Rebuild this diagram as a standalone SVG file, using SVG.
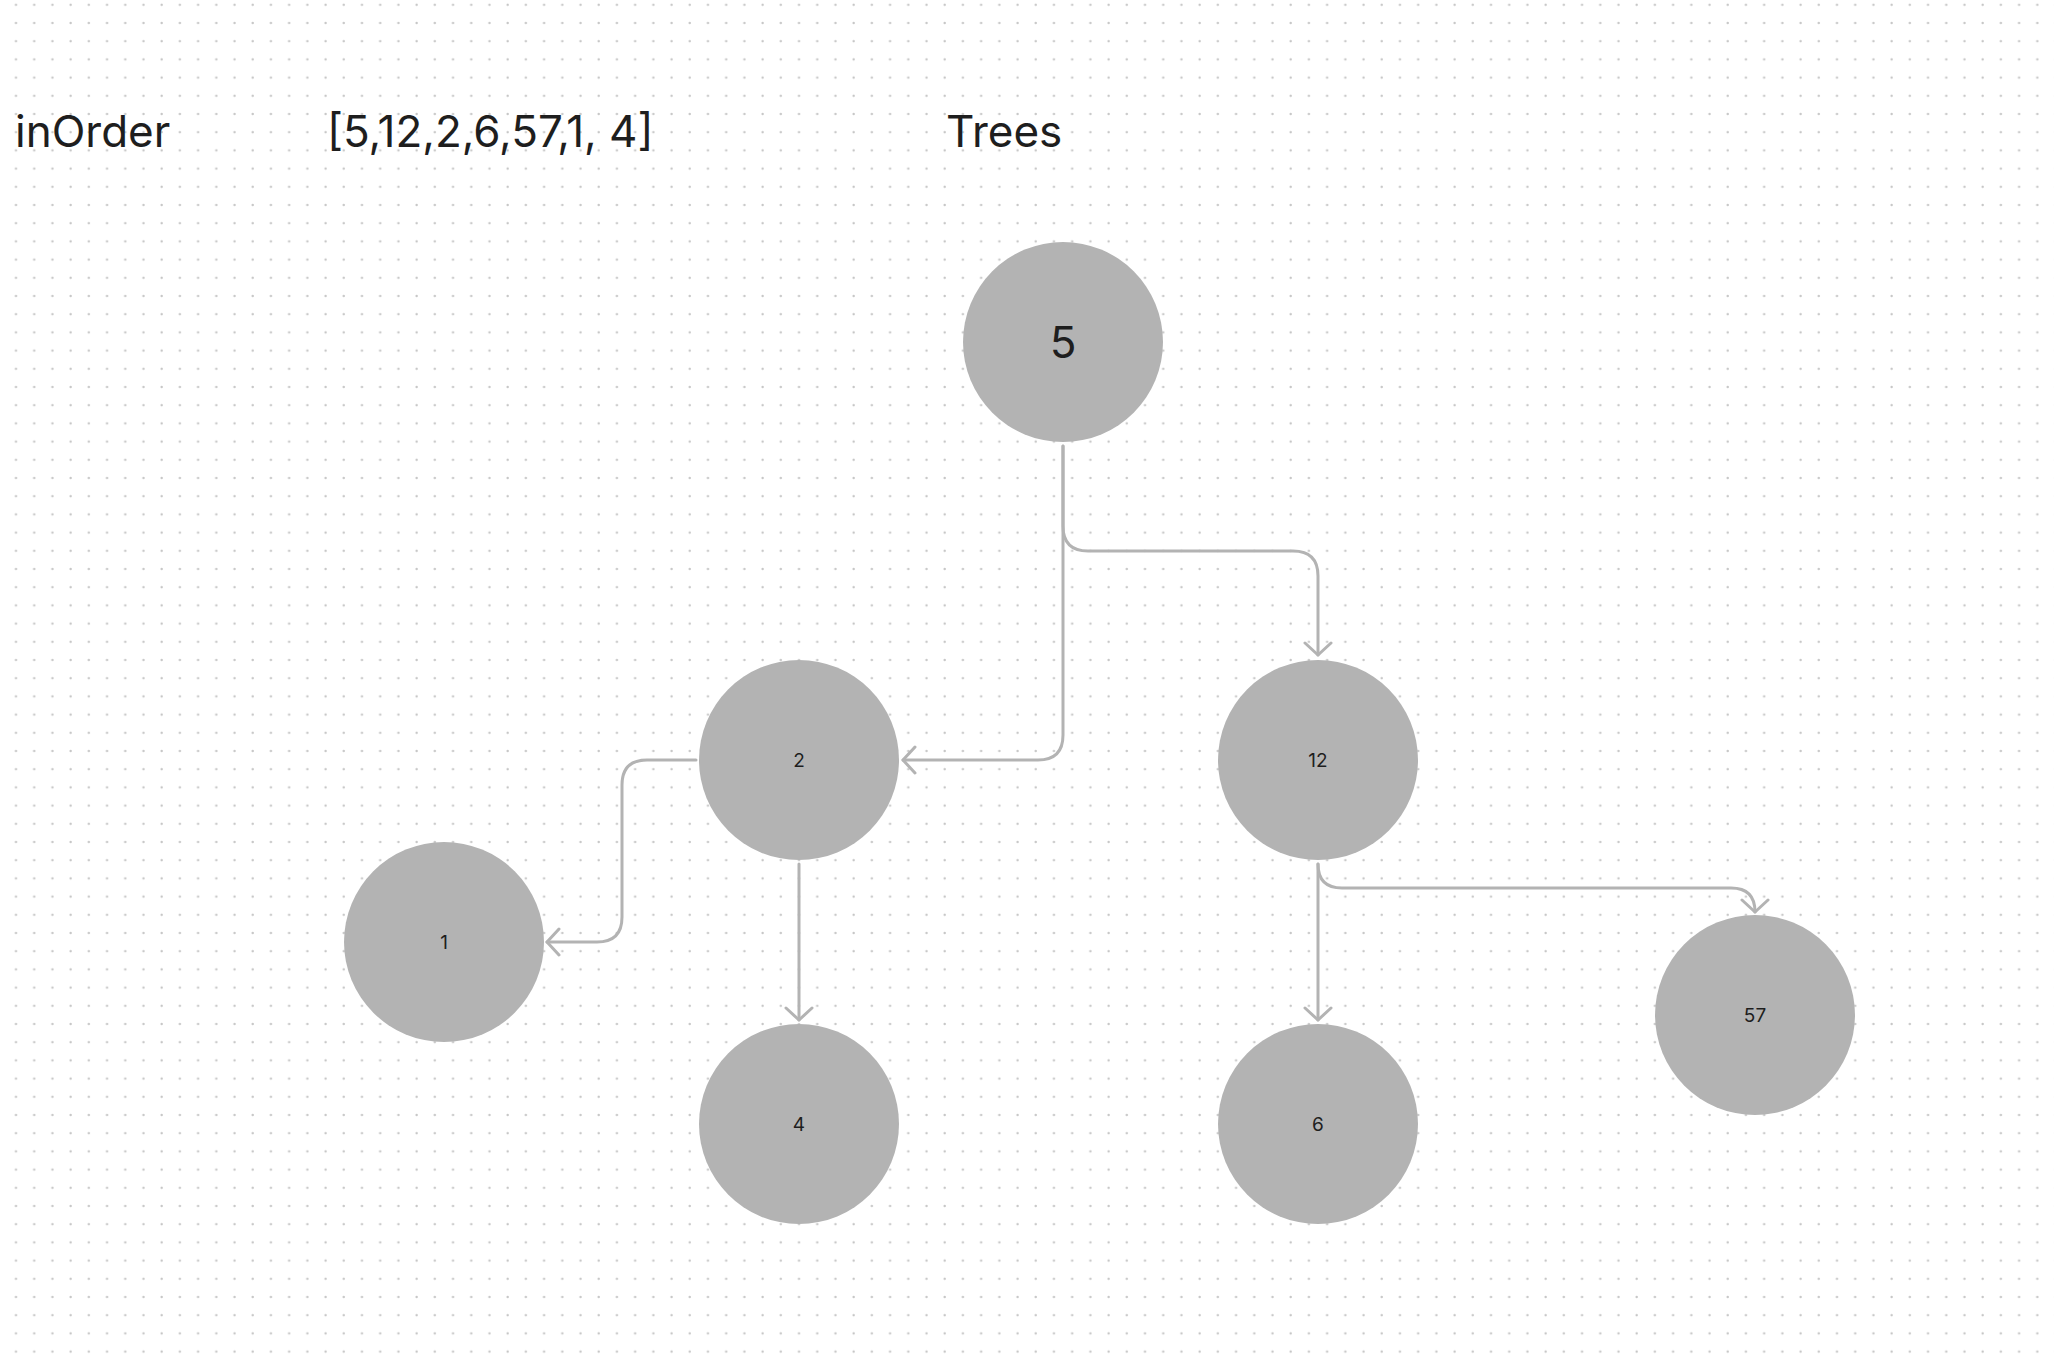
<svg xmlns="http://www.w3.org/2000/svg" width="2054" height="1362" viewBox="0 0 2054 1362">
<style>
.title{font-family:Inter,"Liberation Sans",sans-serif;font-size:44px;fill:#1e1e1e}
.node circle{fill:#b3b3b3}
.node text{font-family:Inter,"Liberation Sans",sans-serif;font-size:19px;fill:#1e1e1e;text-anchor:middle;dominant-baseline:central}
.node text.big{font-size:44px}
.conn path{fill:none;stroke:#b3b3b3;stroke-width:3;stroke-linecap:round;stroke-linejoin:round}
</style>
<defs>
<pattern id="dots" patternUnits="userSpaceOnUse" x="0" y="0" width="18.21" height="18.2">
<circle cx="16" cy="4.7" r="1.2" fill="#c6c6c6"/>
</pattern>
<marker id="arr" markerUnits="userSpaceOnUse" markerWidth="30" markerHeight="30" refX="15" refY="15" orient="auto" viewBox="0 0 30 30">
<path d="M3 2 L15 15 L3 28" fill="none" stroke="#b3b3b3" stroke-width="3" stroke-linecap="round" stroke-linejoin="round"/>
</marker>
</defs>
<rect width="2054" height="1362" fill="#ffffff"/>
<rect width="2054" height="1362" fill="url(#dots)"/>
<text class="title" x="15" y="147">inOrder</text>
<text class="title" x="327" y="147">[5,12,2,6,57,1, 4]</text>
<text class="title" x="946" y="147">Trees</text>
<g class="conn">
<path d="M1063 446 V735 Q1063 760 1038 760 H903" marker-end="url(#arr)"/>
<path d="M1063 446 V526 Q1063 551 1088 551 H1293 Q1318 551 1318 576 V655" marker-end="url(#arr)"/>
<path d="M696 760 H647 Q622 760 622 785 V917 Q622 942 597 942 H547" marker-end="url(#arr)"/>
<path d="M799 864 V1020" marker-end="url(#arr)"/>
<path d="M1318 864 V1020" marker-end="url(#arr)"/>
<path d="M1318 864 Q1318 888 1342 888 H1731 Q1755 888 1755 912" marker-end="url(#arr)"/>
</g>
<g id="node-5" class="node"><circle cx="1063" cy="342" r="100"/><text class="big" x="1063" y="342">5</text></g>
<g id="node-2" class="node"><circle cx="799" cy="760" r="100"/><text x="799" y="760">2</text></g>
<g id="node-12" class="node"><circle cx="1318" cy="760" r="100"/><text x="1318" y="760">12</text></g>
<g id="node-1" class="node"><circle cx="444" cy="942" r="100"/><text x="444" y="942">1</text></g>
<g id="node-4" class="node"><circle cx="799" cy="1124" r="100"/><text x="799" y="1124">4</text></g>
<g id="node-6" class="node"><circle cx="1318" cy="1124" r="100"/><text x="1318" y="1124">6</text></g>
<g id="node-57" class="node"><circle cx="1755" cy="1015" r="100"/><text x="1755" y="1015">57</text></g>
</svg>
